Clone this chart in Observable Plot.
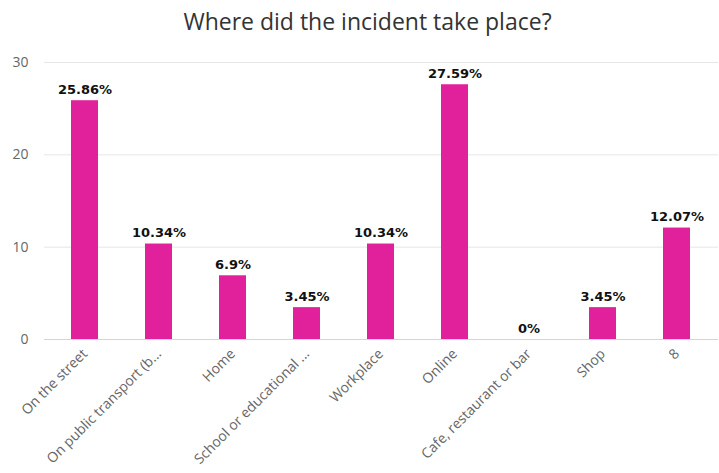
<!DOCTYPE html>
<html><head><meta charset="utf-8">
<script src="https://cdn.jsdelivr.net/npm/d3@7"></script>
<script src="https://cdn.jsdelivr.net/npm/@observablehq/plot@0.6"></script>
<style>
body{margin:0;background:#fff;font-family:"Open Sans",sans-serif;}
#title{height:45px;line-height:42px;text-align:center;font-size:23px;color:#333;padding-left:16px;}
</style></head><body>
<div id="title">Where did the incident take place?</div>
<div id="chart"></div>
<script>
const categories = ["On the street","On public transport (b...","Home","School or educational ...","Workplace","Online","Cafe, restaurant or bar","Shop","8"];
const values = [25.86,10.34,6.9,3.45,10.34,27.59,0,3.45,12.07];
const labels = ["25.86%","10.34%","6.9%","3.45%","10.34%","27.59%","0%","3.45%","12.07%"];
const yTicks = [0,10,20,30];
const data = categories.map((c,i)=>({c, v: values[i], l: labels[i]}));
const color = "#e0219b";
const chart = Plot.plot({
  width: 719, height: 428,
  marginLeft: 44, marginRight: 1, marginTop: 17, marginBottom: 134,
  style: {fontFamily: "Open Sans, sans-serif", fontSize: "14px", color: "#666", background: "#fff"},
  x: {domain: categories, paddingInner: 0.63, paddingOuter: 0.315, label: null, tickSize: 0, tickRotate: -45, tickPadding: 12},
  y: {domain: [0,30], ticks: yTicks, label: null, tickSize: 0, tickPadding: 16},
  marks: [
    Plot.gridY(yTicks, {stroke: "#e6e6e6", strokeOpacity: 1}),
    Plot.barY(data, {x: "c", y: "v", fill: color}),
    Plot.ruleY([0], {stroke: "#ccd6eb"}),
    Plot.text(data, {x: "c", y: "v", text: "l", lineAnchor: "bottom", dy: -7, fill: "#111", fontWeight: "bold", fontSize: 13, fontFamily: "DejaVu Sans, sans-serif"})
  ]
});
document.getElementById("chart").append(chart);
</script></body></html>
